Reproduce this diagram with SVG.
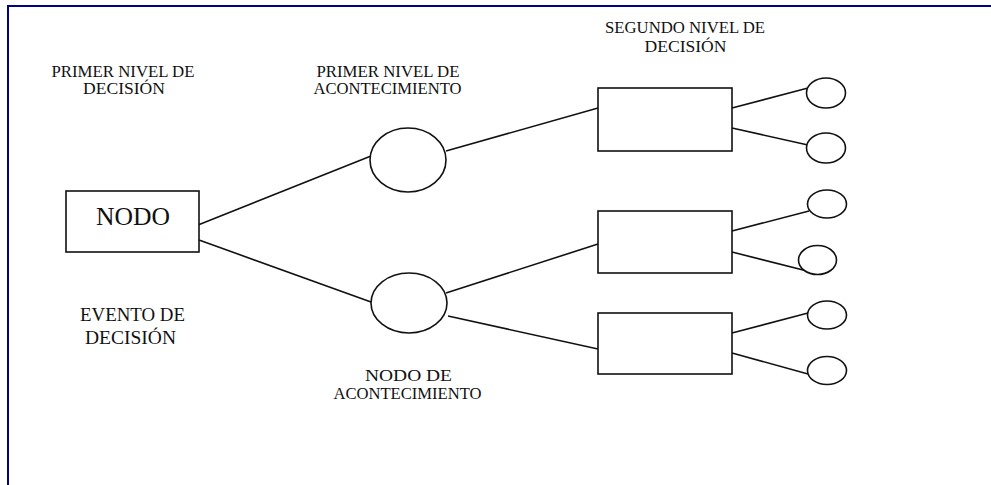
<svg xmlns="http://www.w3.org/2000/svg" width="991" height="485" viewBox="0 0 991 485">
<style>
  .shape { fill: #ffffff; stroke: #111111; stroke-width: 1.6; }
  .conn { stroke: #111111; stroke-width: 1.6; fill: none; }
  .lbl { font-family: "Liberation Serif", "DejaVu Serif", serif; font-size: 16px; fill: #111111; text-anchor: middle; }
  .mid { font-size: 19px; }
  .big { font-family: "Liberation Serif", "DejaVu Serif", serif; font-size: 26px; fill: #111111; text-anchor: middle; }
</style>
<rect x="0" y="0" width="991" height="485" fill="#ffffff"/>
<rect id="frame" x="8" y="6" width="1000" height="500" fill="none" stroke="#00008b" stroke-width="2"/>

<g id="connectors">
  <line class="conn" x1="198" y1="225" x2="371" y2="156"/>
  <line class="conn" x1="199" y1="240" x2="371" y2="302"/>
  <line class="conn" x1="446" y1="151" x2="598" y2="108"/>
  <line class="conn" x1="446" y1="293" x2="598" y2="244"/>
  <line class="conn" x1="448" y1="316" x2="598" y2="349"/>
  <line class="conn" x1="732" y1="108" x2="808" y2="88"/>
  <line class="conn" x1="732" y1="128" x2="808" y2="145"/>
  <line class="conn" x1="732" y1="231" x2="809" y2="211"/>
  <line class="conn" x1="732" y1="252" x2="815" y2="273"/>
  <line class="conn" x1="732" y1="333" x2="808" y2="313"/>
  <line class="conn" x1="732" y1="353" x2="808" y2="374"/>
</g>

<g id="nodo">
  <rect class="shape" x="66" y="191" width="133" height="61"/>
  <text class="big" x="133" y="225" textLength="74" lengthAdjust="spacingAndGlyphs">NODO</text>
</g>

<g id="acontecimiento1">
  <ellipse class="shape" cx="408" cy="160" rx="38" ry="32"/>
</g>
<g id="acontecimiento2">
  <ellipse class="shape" cx="409" cy="303" rx="38" ry="30"/>
</g>

<g id="decision1"><rect class="shape" x="598" y="88" width="134" height="63"/></g>
<g id="decision2"><rect class="shape" x="598" y="211" width="134" height="62"/></g>
<g id="decision3"><rect class="shape" x="598" y="313" width="134" height="61"/></g>

<g id="resultado1"><ellipse class="shape" cx="826" cy="93" rx="19.5" ry="15"/></g>
<g id="resultado2"><ellipse class="shape" cx="826" cy="148" rx="19.5" ry="15"/></g>
<g id="resultado3"><ellipse class="shape" cx="827" cy="204" rx="19.5" ry="14"/></g>
<g id="resultado4"><ellipse class="shape" cx="817.5" cy="260" rx="19" ry="14.5"/></g>
<g id="resultado5"><ellipse class="shape" cx="827" cy="315" rx="19.5" ry="14"/></g>
<g id="resultado6"><ellipse class="shape" cx="827" cy="370.5" rx="19.5" ry="14"/></g>

<g id="label-primer-decision">
  <text class="lbl" x="123" y="77" textLength="143" lengthAdjust="spacingAndGlyphs">PRIMER NIVEL DE</text>
  <text class="lbl" x="124" y="94" textLength="82" lengthAdjust="spacingAndGlyphs">DECISIÓN</text>
</g>
<g id="label-primer-acontecimiento">
  <text class="lbl" x="388" y="77" textLength="143" lengthAdjust="spacingAndGlyphs">PRIMER NIVEL DE</text>
  <text class="lbl" x="387.5" y="94" textLength="148" lengthAdjust="spacingAndGlyphs">ACONTECIMIENTO</text>
</g>
<g id="label-segundo-decision">
  <text class="lbl" x="685" y="33" textLength="160" lengthAdjust="spacingAndGlyphs">SEGUNDO NIVEL DE</text>
  <text class="lbl" x="685.5" y="52" textLength="82" lengthAdjust="spacingAndGlyphs">DECISIÓN</text>
</g>
<g id="label-evento">
  <text class="lbl mid" x="132.5" y="321" textLength="105" lengthAdjust="spacingAndGlyphs">EVENTO DE</text>
  <text class="lbl mid" x="130.5" y="344" textLength="91" lengthAdjust="spacingAndGlyphs">DECISIÓN</text>
</g>
<g id="label-nodo-acontecimiento">
  <text class="lbl" x="408.5" y="381" textLength="87" lengthAdjust="spacingAndGlyphs">NODO DE</text>
  <text class="lbl" x="407.5" y="399" textLength="148" lengthAdjust="spacingAndGlyphs">ACONTECIMIENTO</text>
</g>
</svg>
